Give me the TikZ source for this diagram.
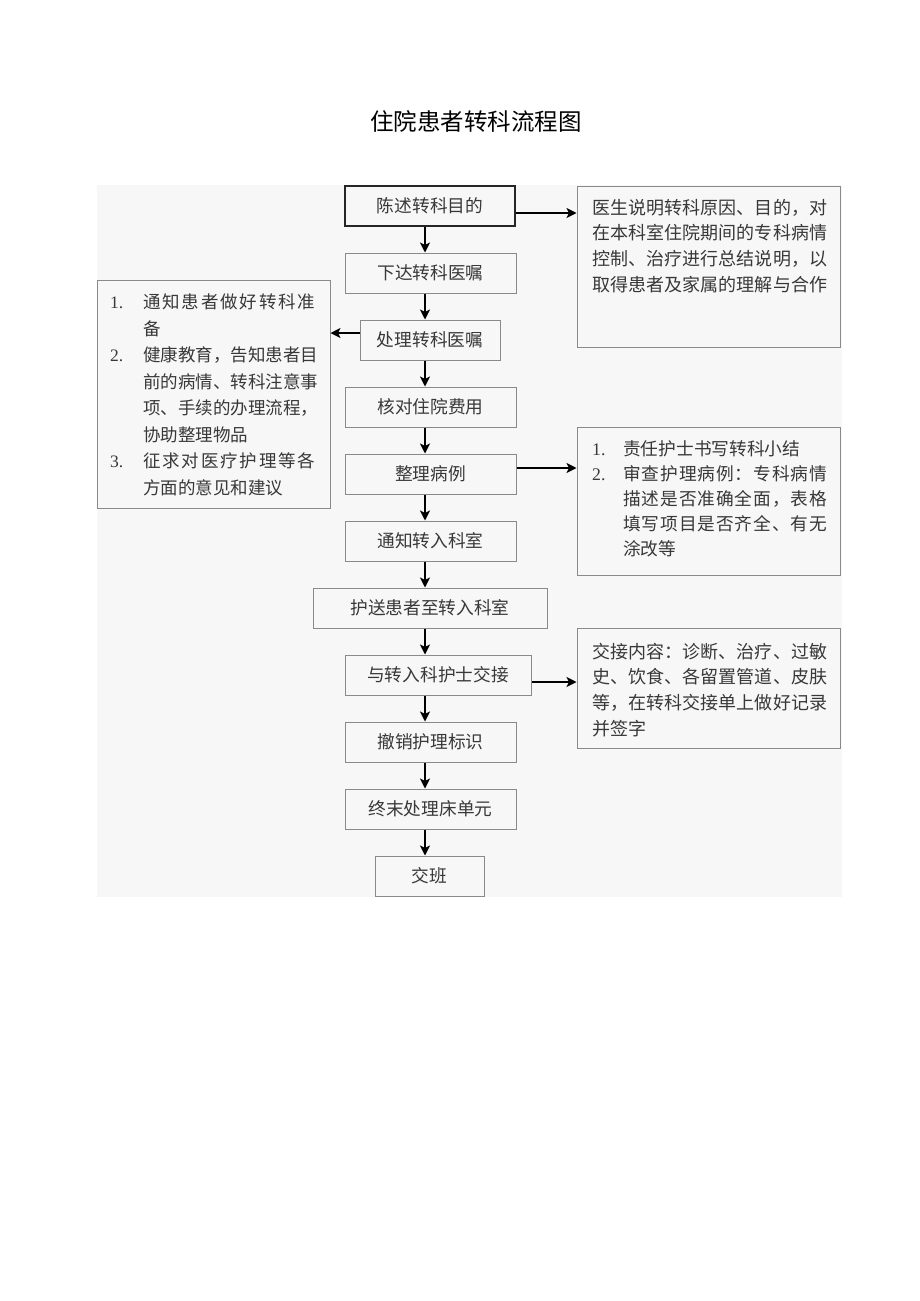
\documentclass[tikz,border=0pt]{standalone}
\usepackage{fontspec}
\setmainfont{Liberation Serif}
\newfontfamily\cjk{Noto Sans CJK SC}
\usetikzlibrary{arrows.meta}
\definecolor{bgc}{HTML}{F7F7F7}
\definecolor{bdr}{HTML}{8A8A8A}
\definecolor{txt}{HTML}{383838}
\def\sprd#1{\sprdA#1\endsprd}
\def\sprdA#1#2\endsprd{#1\if\relax\detokenize{#2}\relax\else\hfil\sprdA#2\endsprd\fi}
\newcommand\fl[2]{\hbox to #1{\sprd{#2}}}
\newcommand\nm[2]{\makebox[#1][l]{\rmfamily #2}}
\tikzset{
  box/.style={draw=bdr, line width=1pt, minimum height=40pt, inner sep=0pt,
    text=txt, font=\cjk\fontsize{17.7}{20}\selectfont},
  sbox/.style={draw=bdr, line width=1pt, inner sep=0pt},
  stxt/.style={anchor=north west, inner sep=0pt, text=txt},
  arr/.style={draw=black, line width=1.5pt, -{Stealth[length=10pt,width=10pt,inset=2.5pt]}}
}
\begin{document}
\begin{tikzpicture}[x=1pt,y=-1pt]
\useasboundingbox[fill=white] (0,0) rectangle (920,1301);
\fill[bgc] (97,185) rectangle (842,897);
\node[inner sep=0pt, font=\cjk\fontsize{23.5}{26}\selectfont, text=black] (title) at (476,121) {住院患者转科流程图};
% main column
\node[box, draw=black!85, line width=1.8pt, minimum width=170pt] (b1) at (430,206) {陈述转科目的};
\node[box, minimum width=171pt] (b2) at (430.5,273) {下达转科医嘱};
\node[box, minimum width=140pt] (b3) at (430,340) {处理转科医嘱};
\node[box, minimum width=171pt] (b4) at (430.5,407) {核对住院费用};
\node[box, minimum width=171pt] (b5) at (430.5,474) {整理病例};
\node[box, minimum width=171pt] (b6) at (430.5,541) {通知转入科室};
\node[box, minimum width=234pt] (b7) at (430,608) {护送患者至转入科室};
\node[box, minimum width=186pt] (b8) at (438,675) {与转入科护士交接};
\node[box, minimum width=171pt] (b9) at (430.5,742) {撤销护理标识};
\node[box, minimum width=171pt] (b10) at (430.5,809) {终末处理床单元};
\node[box, minimum width=109pt] (b11) at (429.5,876) {交班};
% side boxes
\node[sbox, minimum width=263pt, minimum height=161pt] (r1) at (708.5,266.5) {};
\node[sbox, minimum width=263pt, minimum height=148pt] (r2) at (708.5,501.5) {};
\node[sbox, minimum width=263pt, minimum height=120pt] (r3) at (708.5,688) {};
\node[sbox, minimum width=233pt, minimum height=228pt] (l1) at (213.5,394) {};
% side texts
\node[stxt, font=\cjk\fontsize{18}{25.7}\selectfont] (r1t) at (592,196) {\begin{tabular}{@{}l@{}}
\fl{235pt}{医生说明转科原因、目的，对}\\
\fl{235pt}{在本科室住院期间的专科病情}\\
\fl{235pt}{控制、治疗进行总结说明，以}\\
\fl{235pt}{取得患者及家属的理解与合作}
\end{tabular}};
\node[stxt, font=\cjk\fontsize{17.7}{25}\selectfont] (r2t) at (592,438) {\begin{tabular}{@{}l@{}}
\nm{31pt}{1.}责任护士书写转科小结\\
\nm{31pt}{2.}\fl{204pt}{审查护理病例：专科病情}\\
\hspace*{31pt}\fl{204pt}{描述是否准确全面，表格}\\
\hspace*{31pt}\fl{204pt}{填写项目是否齐全、有无}\\
\hspace*{31pt}涂改等
\end{tabular}};
\node[stxt, font=\cjk\fontsize{18}{25.7}\selectfont] (r3t) at (592,640) {\begin{tabular}{@{}l@{}}
\fl{235pt}{交接内容：诊断、治疗、过敏}\\
\fl{235pt}{史、饮食、各留置管道、皮肤}\\
\fl{235pt}{等，在转科交接单上做好记录}\\
并签字
\end{tabular}};
\node[stxt, font=\cjk\fontsize{17.5}{26.5}\selectfont] (l1t) at (110,290) {\begin{tabular}{@{}l@{}}
\nm{33pt}{1.}\fl{172pt}{通知患者做好转科准}\\
\hspace*{33pt}备\\
\nm{33pt}{2.}\fl{172pt}{健康教育，告知患者目}\\
\hspace*{33pt}\fl{172pt}{前的病情、转科注意事}\\
\hspace*{33pt}\fl{172pt}{项、手续的办理流程，}\\
\hspace*{33pt}协助整理物品\\
\nm{33pt}{3.}\fl{172pt}{征求对医疗护理等各}\\
\hspace*{33pt}方面的意见和建议
\end{tabular}};
% connectors
\coordinate (ax) at (425,0);
\foreach \a/\b in {b1/b2,b2/b3,b3/b4,b4/b5,b5/b6,b6/b7,b7/b8,b8/b9,b9/b10,b10/b11}
  \draw[arr] (\a.south -| ax) -- (\b.north -| ax);
\draw[arr] ([yshift=-7pt]b1.east) -- ([yshift=-7pt]b1.east -| r1.west);
\draw[arr] ([yshift=7pt]b3.west) -- ([yshift=7pt]b3.west -| l1.east);
\draw[arr] ([yshift=6pt]b5.east) -- ([yshift=6pt]b5.east -| r2.west);
\draw[arr] ([yshift=-7pt]b8.east) -- ([yshift=-7pt]b8.east -| r3.west);
\end{tikzpicture}
\end{document}
